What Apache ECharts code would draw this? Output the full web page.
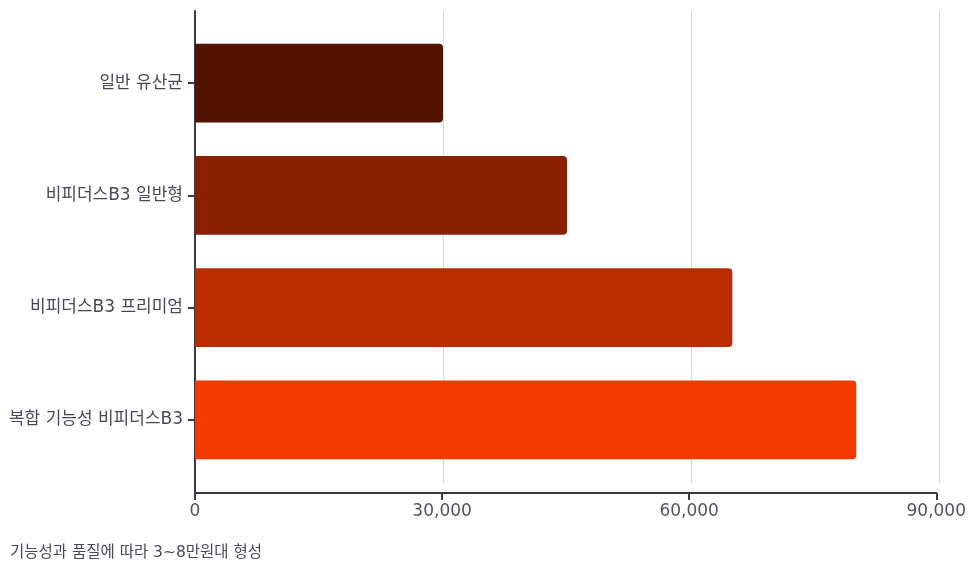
<!DOCTYPE html>
<html>
<head>
<meta charset="utf-8">
<script src="https://cdn.jsdelivr.net/npm/echarts@6/dist/echarts.min.js"></script>
<style>
  html, body { margin: 0; padding: 0; background: #fff; }
  #chart { width: 969px; height: 571px; }
</style>
</head>
<body>
<div id="chart"></div>
<script>
const categories = ['일반 유산균', '비피더스B3 일반형', '비피더스B3 프리미엄', '복합 기능성 비피더스B3'];
const prices = [30000, 45000, 65000, 80000];
const barColors = ['#521400', '#8a2000', '#bb2c00', '#f53a00'];
const xMin = 0;
const xMax = 90000;
const xStep = 30000;
const note = '기능성과 품질에 따라 3~8만원대 형성';

const font = '"DejaVu Sans", "Noto Sans CJK KR", sans-serif';
const axisColor = '#3b3649';

const chart = echarts.init(document.getElementById('chart'));

chart.setOption({
  animation: false,
  textStyle: { fontFamily: font },
  grid: [
    // grid lines
    { left: 195, right: 30, top: 11, bottom: 88 },
    // axis lines, ticks, x labels
    { left: 195, right: 30, top: 11, bottom: 78 },
    // bars
    { left: 195, right: 30, top: 27, bottom: 95 }
  ],
  xAxis: [
    {
      gridIndex: 0,
      type: 'value',
      min: xMin,
      max: xMax,
      interval: xStep,
      axisLine: { show: false },
      axisTick: { show: false },
      axisLabel: { show: false },
      splitLine: { show: true, lineStyle: { color: '#d9d9d9', width: 1 } }
    },
    {
      gridIndex: 1,
      type: 'value',
      min: xMin,
      max: xMax,
      interval: xStep,
      axisLine: { show: true, lineStyle: { color: axisColor, width: 2 } },
      axisTick: { show: true, length: 7, lineStyle: { color: axisColor, width: 2 } },
      axisLabel: {
        margin: 10,
        fontSize: 17,
        color: '#555260',
        fontFamily: font,
        formatter: v => v.toLocaleString('en-US')
      },
      splitLine: { show: false }
    },
    {
      gridIndex: 2, type: 'value', min: xMin, max: xMax, show: false
    }
  ],
  yAxis: [
    { gridIndex: 0, type: 'value', min: 0, max: 1, show: false },
    {
      gridIndex: 1,
      type: 'value',
      min: 0,
      max: 1,
      axisLine: { show: true, lineStyle: { color: axisColor, width: 2 } },
      axisTick: { show: false },
      axisLabel: { show: false },
      splitLine: { show: false }
    },
    {
      gridIndex: 2,
      type: 'category',
      inverse: true,
      data: categories,
      axisLine: { show: false },
      axisTick: { show: true, alignWithLabel: true, length: 7, lineStyle: { color: axisColor, width: 2 } },
      axisLabel: { margin: 12, fontSize: 17, color: '#4a4757', fontFamily: font }
    }
  ],
  series: [
    {
      type: 'bar',
      xAxisIndex: 2,
      yAxisIndex: 2,
      barCategoryGap: '30%',
      data: prices.map((v, i) => ({ value: v, itemStyle: { color: barColors[i] } })),
      itemStyle: { borderRadius: [0, 4, 4, 0] }
    }
  ],
  graphic: [
    {
      type: 'text',
      left: 10,
      top: 545,
      style: { text: note, fontSize: 15.5, fill: '#4a4757', fontFamily: font }
    }
  ]
});
</script>
</body>
</html>
